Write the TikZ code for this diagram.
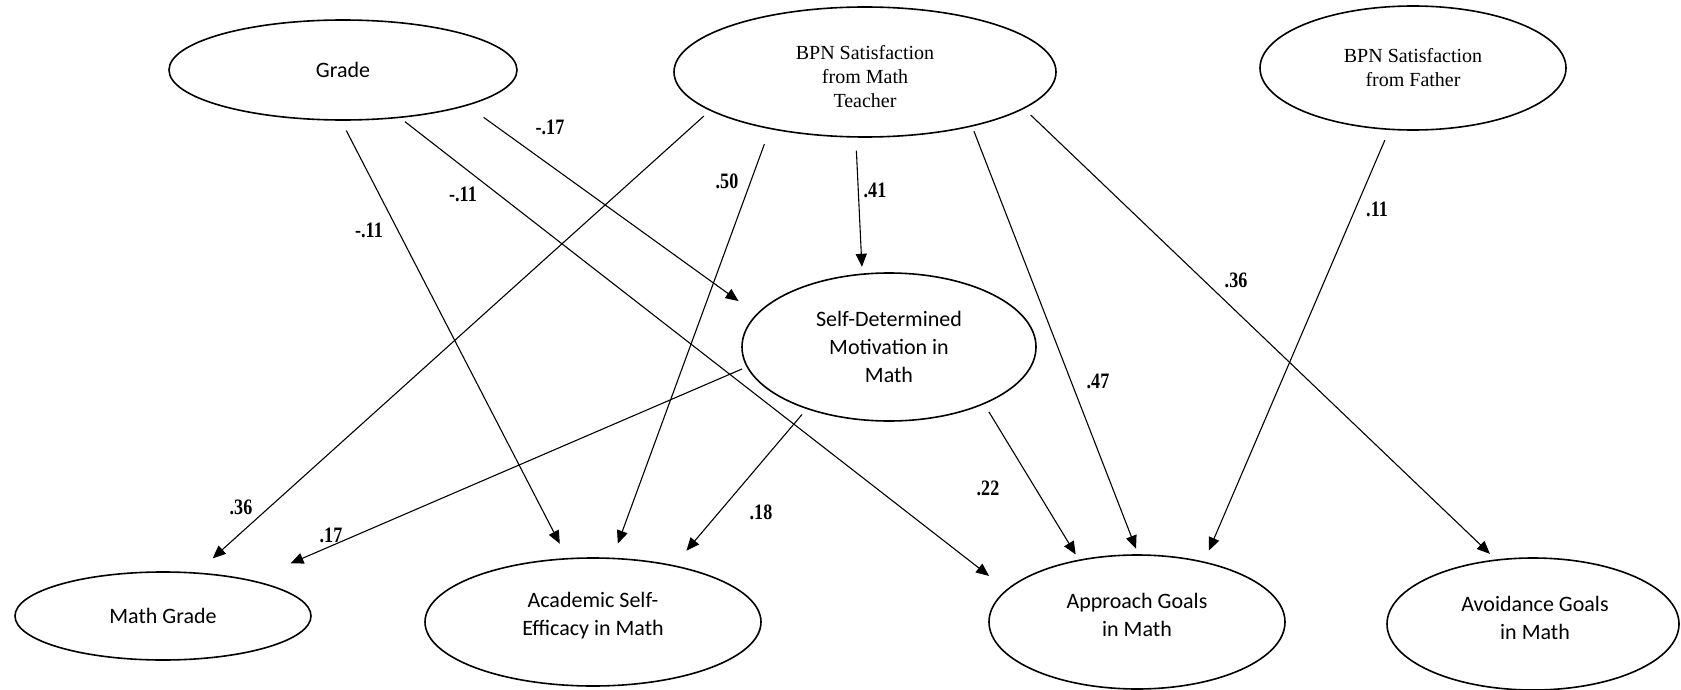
\documentclass[tikz,border=0pt]{standalone}
\usepackage{fontspec}
\setmainfont{Liberation Serif}
\newfontfamily\calfont{Carlito}
\newfontfamily\labfont[FakeStretch=0.82]{Liberation Serif}
\usetikzlibrary{shapes.geometric,arrows.meta}
\begin{document}
\begin{tikzpicture}[x=0.5pt,y=-0.5pt,
 ell/.style={ellipse,draw,line width=0.8pt,inner sep=0pt,align=center},
 txt/.style={inner sep=0pt,align=center},
 sans/.style={font=\calfont\fontsize{11}{14}\selectfont},
 serif/.style={font=\fontsize{10}{12}\selectfont},
 arr/.style={line width=0.55pt,-{Triangle[length=6.5pt,width=5.5pt]}},
 lab/.style={font=\labfont\bfseries\fontsize{11}{13}\selectfont,inner sep=0pt}]
\useasboundingbox (0,0) rectangle (1681,690);
% nodes
\node[ell,sans,minimum width=174pt,minimum height=50pt] (grade) at (343,70) {Grade};
\node[ell,minimum width=191pt,minimum height=65pt] (bpnt) at (865,72) {};
\node[txt,serif] (bpntt) at (865,77) {BPN Satisfaction\\from Math\\Teacher};
\node[ell,serif,minimum width=153pt,minimum height=62pt] (bpnf) at (1413,68) {BPN Satisfaction\\from Father};
\node[ell,sans,minimum width=147pt,minimum height=74pt] (sdm) at (889,347) {Self-Determined\\Motivation in\\Math};
\node[ell,sans,minimum width=148pt,minimum height=44pt] (mg) at (163,616) {Math Grade};
\node[ell,minimum width=168pt,minimum height=64pt] (ase) at (593,622) {};
\node[txt,sans] (aset) at (593,616) {Academic Self-\\Efficacy in Math};
\node[ell,minimum width=148pt,minimum height=67pt] (app) at (1137,622) {};
\node[txt,sans] (appt) at (1137,615) {Approach Goals\\in Math};
\node[ell,minimum width=146pt,minimum height=66pt] (avo) at (1533,624) {};
\node[txt,sans] (avot) at (1535,618) {Avoidance Goals\\in Math};
% connectors
\draw[arr,shorten <=5.5pt,shorten >=8pt] (grade.-92) -- (ase.112);
\draw[arr,shorten <=3pt,shorten >=11pt] (grade.-40) -- (app.166);
\draw[arr,shorten <=10pt,shorten >=11pt] (grade.-16) -- (sdm.166);
\draw[arr,shorten <=4pt,shorten >=10.5pt] (bpnt.-166) -- (mg.52);
\draw[arr,shorten <=8pt,shorten >=7.5pt] (bpnt.-149) -- (ase.73);
\draw[arr,shorten <=6.5pt,shorten >=3.3pt] (bpnt.-98) -- (sdm.110);
\draw[arr,shorten <=2.5pt,shorten >=3pt] (bpnt.-27) -- (app.89);
\draw[arr,shorten <=4.5pt,shorten >=4pt] (bpnt.-13) -- (avo.120);
\draw[arr,shorten <=5.5pt,shorten >=6pt] (bpnf.-111) -- (app.42);
\draw[arr,shorten <=2.5pt,shorten >=21pt] (sdm.-172) -- (mg.22);
\draw[arr,shorten <=3.5pt,shorten >=9.5pt] (sdm.-143) -- (ase.35);
\draw[arr,shorten <=4.5pt,shorten >=3pt] (sdm.-31) -- (app.133);
% labels
\node[lab] (l1) at (369,230) {-.11};
\node[lab] (l2) at (463,194) {-.11};
\node[lab] (l3) at (550,127) {-.17};
\node[lab] (l4) at (241,507) {.36};
\node[lab] (l5) at (727,181) {.50};
\node[lab] (l6) at (875,190) {.41};
\node[lab] (l7) at (1098,381) {.47};
\node[lab] (l8) at (1236,280) {.36};
\node[lab] (l9) at (1377,209) {.11};
\node[lab] (l10) at (331,535) {.17};
\node[lab] (l11) at (761,512) {.18};
\node[lab] (l12) at (988,488) {.22};
\end{tikzpicture}
\end{document}
